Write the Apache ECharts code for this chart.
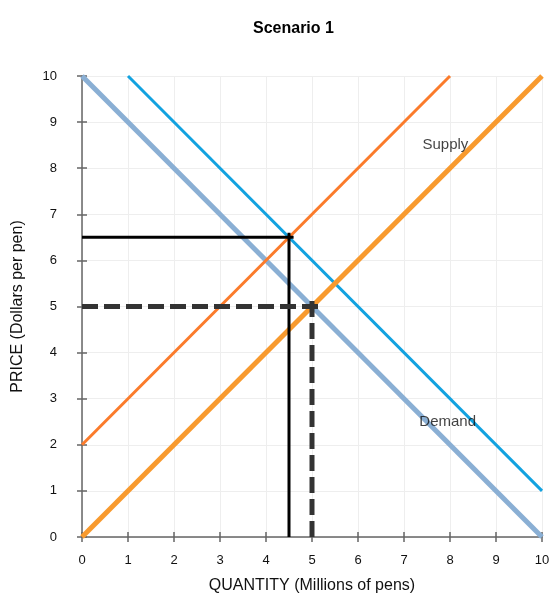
<!DOCTYPE html>
<html><head><meta charset="utf-8">
<script src="https://cdn.jsdelivr.net/npm/echarts@6/dist/echarts.min.js"></script>
<style>html,body{margin:0;padding:0;background:#fff}#c{width:560px;height:605px}</style>
</head><body><div id="c"></div>
<script>
const titleText = 'Scenario 1';
const xName = 'QUANTITY (Millions of pens)';
const yName = 'PRICE (Dollars per pen)';
const demand = [[0,10],[10,0]];
const demandNew = [[1,10],[10,1]];
const supply = [[0,0],[10,10]];
const supplyNew = [[0,2],[8,10]];
const eqNewH = [[0,6.5],[4.6,6.5]];
const eqNewV = [[4.5,0],[4.5,6.6]];
const eqOldH = [[0,5],[5.2,5]];
const eqOldV = [[5,0],[5,5.2]];
const labelsPts = [{name:'Supply', value:[7.9,8.5]},{name:'Demand', value:[7.95,2.5]}];

const F = 'Liberation Sans, Arial, sans-serif';
function line(data, color, width, type, z){
  return {type:'line', data, symbol:'none', silent:true, z:z||2,
    lineStyle:{color, width, type:type||'solid', cap:'butt'}};
}
const chart = echarts.init(document.getElementById('c'));
chart.setOption({
  animation:false,
  title:{text:titleText, left:248, top:16,
    textStyle:{fontFamily:F, fontSize:16, fontWeight:'bold', color:'#000'}},
  grid:{left:82, right:18, top:76, bottom:68},
  xAxis:[{type:'value', min:0, max:10, interval:1,
    name:xName, nameLocation:'middle', nameGap:41,
    nameTextStyle:{fontFamily:F, fontSize:16, color:'#111'},
    axisLine:{lineStyle:{color:'#666', width:1.5}},
    axisTick:{show:true, length:5, lineStyle:{color:'#666', width:1.5}},
    axisLabel:{fontFamily:F, fontSize:13, color:'#111', margin:17},
    splitLine:{show:true, lineStyle:{color:'#eeeeee', width:1}}},
   {type:'value', min:0, max:10, interval:1, position:'bottom',
    axisLine:{show:false}, axisLabel:{show:false}, splitLine:{show:false},
    axisTick:{show:true, inside:true, length:5, lineStyle:{color:'#666', width:1.5}}}],
  yAxis:[{type:'value', min:0, max:10, interval:1,
    name:yName, nameLocation:'middle', nameGap:56, nameRotate:90,
    nameTextStyle:{fontFamily:F, fontSize:16, color:'#111'},
    axisLine:{show:true, lineStyle:{color:'#666', width:1.5}},
    axisTick:{show:true, length:5, lineStyle:{color:'#666', width:1.5}},
    axisLabel:{fontFamily:F, fontSize:13, color:'#111', margin:25},
    splitLine:{show:true, lineStyle:{color:'#eeeeee', width:1}}},
   {type:'value', min:0, max:10, interval:1, position:'left',
    axisLine:{show:false}, axisLabel:{show:false}, splitLine:{show:false},
    axisTick:{show:true, inside:true, length:5, lineStyle:{color:'#666', width:1.5}}}],
  series:[
    line(demand, '#8aafd4', 5),
    line(demandNew, '#12a2e0', 3),
    line(supply, '#f89a2e', 5),
    line(supplyNew, '#fb7b2b', 3),
    line(eqNewH, '#000', 3, 'solid', 4),
    line(eqNewV, '#000', 3, 'solid', 4),
    line(eqOldH, '#333', 5, [16,6], 4),
    line(eqOldV, '#333', 5, [16,6], 4),
    {type:'scatter', data:labelsPts, symbolSize:0, silent:true, z:5,
      label:{show:true, position:'inside', formatter:p=>p.name,
        fontFamily:F, fontSize:15, color:'#111'}}
  ]
});
</script></body></html>
